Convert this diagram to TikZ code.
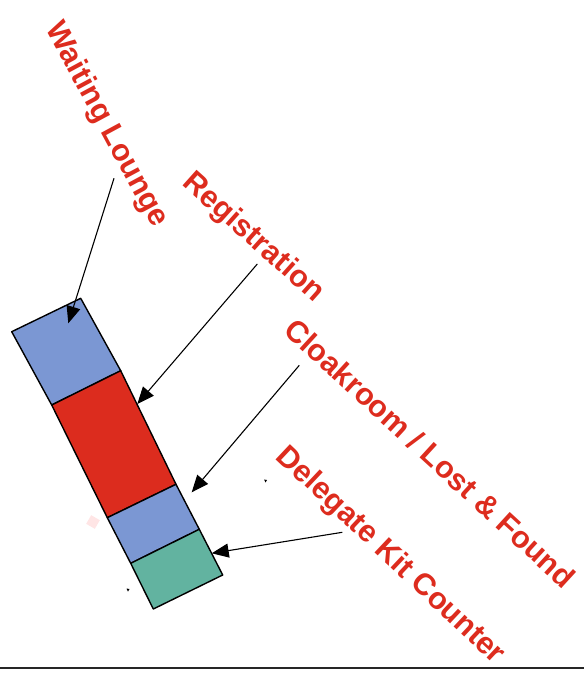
\documentclass[tikz,border=0pt]{standalone}
\usepackage{fontspec}
\setmainfont{Liberation Sans}
\usetikzlibrary{arrows.meta}
\usetikzlibrary{calc,positioning}
\definecolor{labred}{RGB}{221,44,30}
\definecolor{roomblue}{RGB}{123,151,211}
\definecolor{roomred}{RGB}{220,44,30}
\definecolor{roomgreen}{RGB}{98,179,160}

\begin{document}
\begin{tikzpicture}[x=1pt,y=-1pt,
    lbl/.style={text=labred,font=\bfseries\fontsize{30.5}{30.5}\selectfont,inner sep=0pt},
    room/.style={draw=black,line width=1.4pt,line join=round},
    pointer/.style={-{Triangle[length=17pt,width=14pt]},line width=1.1pt}]
            \useasboundingbox (0,0) rectangle (584,679);

            \coordinate (tl) at (11.7,331.7);
            \coordinate (tr) at (80.7,298.3);
            \coordinate (al) at (51.7,405);
            \coordinate (ar) at (120.7,370.7);
            \coordinate (bl) at (107.3,517.7);
            \coordinate (br) at (176,484.3);
            \coordinate (cl) at (130.7,563.3);
            \coordinate (cr) at (199.3,529.3);
            \coordinate (dl) at (153.3,609);
            \coordinate (dr) at (222.7,575);

            \filldraw[room,fill=roomblue] (tl) -- (tr) -- (ar) -- (al) -- cycle;
            \filldraw[room,fill=roomred] (al) -- (ar) -- (br) -- (bl) -- cycle;
            \filldraw[room,fill=roomblue] (bl) -- (br) -- (cr) -- (cl) -- cycle;
            \filldraw[room,fill=roomgreen] (cl) -- (cr) -- (dr) -- (dl) -- cycle;

            \node[lbl,rotate=-61.7] (lounge) at (106,125) {Waiting Lounge};
            \node[lbl,rotate=-41.8] (regist) at (253,238) {Registration};
            \node[lbl,rotate=-42.5] (cloak) at (430,453) {Cloakroom / Lost \& Found};
            \node[lbl,rotate=-43.3] (kit) at (390,556) {Delegate Kit Counter};

            \coordinate (lounge-s) at (114,178.3);
            \coordinate (regist-s) at (257.3,264);
            \coordinate (cloak-s) at (299.3,365.3);
            \coordinate (kit-s) at (342.3,532.3);
            \coordinate (lounge-t) at (68.3,323.3);
            \coordinate (regist-t) at (137.3,404);
            \coordinate (cloak-t) at (191.7,492.3);
            \coordinate (kit-t) at (211.7,553.3);

            \draw[pointer] (lounge-s) -- (lounge-t);
            \draw[pointer] (regist-s) -- (regist-t);
            \draw[pointer] (cloak-s) -- (cloak-t);
            \draw[pointer] (kit-s) -- (kit-t);

            \fill[black] (264,479.5) -- (267,480) -- (265.5,482.5) -- cycle;
            \fill[black] (126.5,588.5) -- (129.5,589) -- (128,591.5) -- cycle;
            \fill[red!10,rotate around={-30:(93,522)}] (88,517) rectangle (98,527);

            \coordinate (floor-l) at (0,668);
            \coordinate (floor-r) at (584,668);
            \draw[line width=2pt,black!85] (floor-l) -- (floor-r);
        \end{tikzpicture}
\end{document}
